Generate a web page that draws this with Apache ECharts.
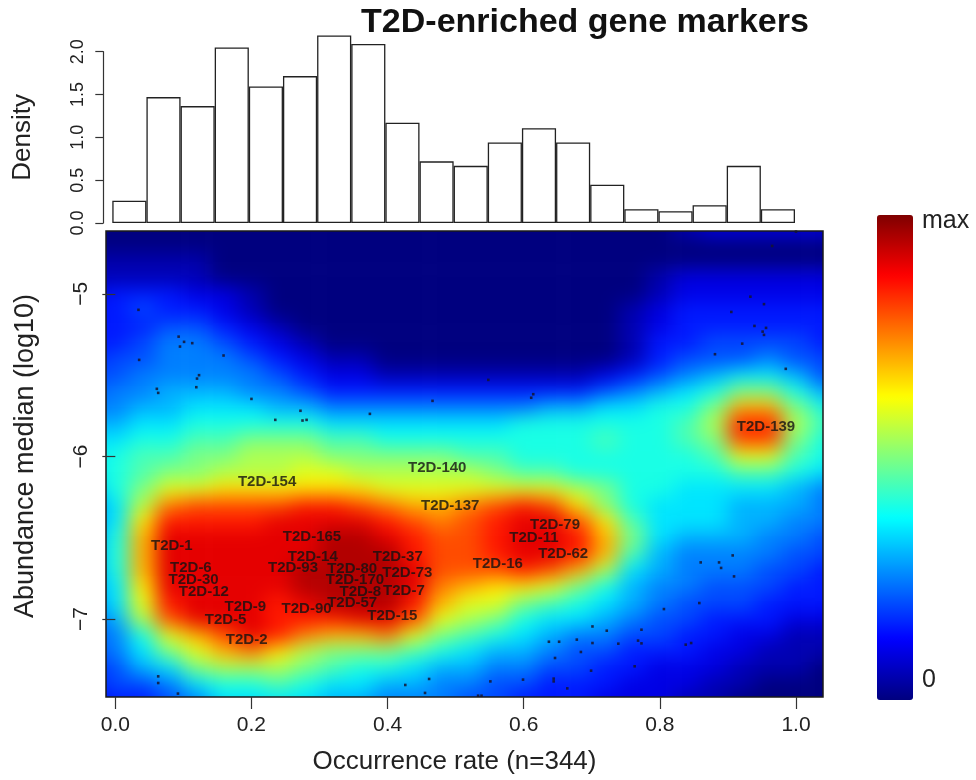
<!DOCTYPE html>
<html><head><meta charset="utf-8">
<script src="https://cdn.jsdelivr.net/npm/echarts@6/dist/echarts.min.js"></script>
<style>
html,body{margin:0;padding:0;background:#fff;}
#wrap{position:relative;width:976px;height:780px;overflow:hidden;}
#heat{position:absolute;left:0;top:0;width:976px;height:780px;filter:blur(10px);clip-path:inset(231px 153px 83px 106px);}
#main{position:absolute;left:0;top:0;width:976px;height:780px;}
</style></head><body>
<div id="wrap"><div id="heat"></div><div id="main"></div></div>
<script>
// ---------- data ----------
const histBins = ['0.00','0.05','0.10','0.15','0.20','0.25','0.30','0.35','0.40','0.45','0.50','0.55','0.60','0.65','0.70','0.75','0.80','0.85','0.90','0.95'];
const histDensity = [0.26,1.47,1.365,2.05,1.595,1.715,2.19,2.09,1.17,0.72,0.667,0.94,1.107,0.94,0.448,0.16,0.137,0.207,0.667,0.16];
const histTicks = [0,0.5,1,1.5,2];

const xTicks = [0,0.2,0.4,0.6,0.8,1.0];
const yTicks = [-7,-6,-5];

// density grid (colour level 0..20, base-36 digits), rows top -> bottom
const heatX = [-0.04,0.00,0.04,0.08,0.12,0.16,0.20,0.24,0.28,0.32,0.36,0.40,0.44,0.48,0.52,0.56,0.60,0.64,0.68,0.72,0.76,0.80,0.84,0.88,0.92,0.96,1.00,1.04,1.08];
const heatY = [-4.5,-4.6,-4.7,-4.8,-4.9,-5.0,-5.1,-5.2,-5.3,-5.4,-5.5,-5.6,-5.7,-5.8,-5.9,-6.0,-6.1,-6.2,-6.3,-6.4,-6.5,-6.6,-6.7,-6.8,-6.9,-7.0,-7.1,-7.2,-7.3,-7.4,-7.5,-7.6];
const heatLevels = [
 '00000000000000000000001111111',
 '00000000000000000000001222222',
 '00000000000000000000000000000',
 '11111000000000000000000000000',
 '11111000000000000000012222222',
 '23332210000000000000012222222',
 '33433210000000000000123333333',
 '33344321000000000000123333333',
 '33455432100000000000133444433',
 '34455543211000000000134445443',
 '44555554322111111112345677644',
 '455666554333333333345678AA865',
 '55667776655555555667788AEEA86',
 '66778888877777778888889BHHB96',
 '778899AAA99888888889889AGGA86',
 '7899AABBBAAAAA9988888889CC986',
 '789AABBBCCBBBBBA9988888899876',
 '68ACCDDDDDDCCCCCCCBA887777654',
 '57BFGGGGHHGFEEFGHGDA877766654',
 '57DHHHHIIIIHGFGHIIGD977766554',
 '58EIIIIIIJJIHGGHIIHEA76665544',
 '58EIIIIIIJJJHGGHIIHE965555443',
 '58EIIIIIJJJJIGGGHGEB765554433',
 '57DIIIIIJJJJIFEDDCA8655444333',
 '57CHIIIHIJJJHECCA987654443332',
 '46BGIIIHHHIIGCBA8776544333222',
 '458CEGIHFEEFCA987655443322111',
 '457ACEFDBAAA98766544333221111',
 '3467ABBBA98876655443322211100',
 '34457889877665544333222110000',
 '23345777766555443332221100000',
 '23345667665555443332221100000'
];

const geneNames = ['T2D-154','T2D-1','T2D-165','T2D-14','T2D-93','T2D-6','T2D-30','T2D-12','T2D-9','T2D-5','T2D-2','T2D-90','T2D-80','T2D-170','T2D-8','T2D-57','T2D-37','T2D-73','T2D-7','T2D-15','T2D-140','T2D-137','T2D-79','T2D-11','T2D-62','T2D-16','T2D-139'];
const geneX = [0.223,0.083,0.289,0.290,0.261,0.111,0.115,0.130,0.191,0.162,0.193,0.281,0.348,0.352,0.360,0.348,0.415,0.429,0.424,0.407,0.473,0.492,0.646,0.615,0.658,0.562,0.956];
const geneY = [-6.154,-6.549,-6.492,-6.615,-6.683,-6.683,-6.758,-6.834,-6.926,-7.004,-7.127,-6.937,-6.691,-6.758,-6.834,-6.902,-6.615,-6.718,-6.830,-6.978,-6.070,-6.302,-6.420,-6.502,-6.601,-6.660,-5.820];

const dotX = [0.034,0.093,0.101,0.113,0.095,0.035,0.159,0.123,0.120,0.119,0.061,0.063,0.200,0.235,0.272,0.275,0.281,0.374,0.466,1.000,0.965,0.933,0.953,0.905,0.939,0.956,0.951,0.953,0.921,0.881,0.985,0.548,0.614,0.611,0.063,0.063,0.092,0.461,0.426,0.455,0.860,0.887,0.890,0.907,0.909,0.858,0.806,0.701,0.722,0.773,0.637,0.652,0.678,0.701,0.739,0.768,0.773,0.838,0.846,0.684,0.646,0.763,0.699,0.551,0.599,0.644,0.644,0.664,0.533,0.538];
const dotY = [-5.098,-5.263,-5.295,-5.303,-5.324,-5.406,-5.379,-5.500,-5.521,-5.574,-5.584,-5.609,-5.646,-5.775,-5.719,-5.779,-5.775,-5.738,-5.658,-4.617,-4.705,-5.017,-5.063,-5.111,-5.197,-5.209,-5.232,-5.252,-5.306,-5.371,-5.461,-5.529,-5.617,-5.639,-7.353,-7.394,-7.459,-7.369,-7.406,-7.455,-6.652,-6.652,-6.686,-6.609,-6.738,-6.902,-6.939,-7.046,-7.072,-7.066,-7.140,-7.140,-7.127,-7.148,-7.152,-7.133,-7.150,-7.158,-7.148,-7.203,-7.240,-7.291,-7.318,-7.384,-7.373,-7.367,-7.384,-7.427,-7.472,-7.472];

// ---------- layout ----------
const PLOT = {left:106, top:231, width:717, height:466};
const XR = [-0.0137, 1.0397];
const YR = [-7.48, -4.613];
const HIST = {left:112.3, top:51.7, width:682.7, height:171.3};
const JET = ['#00007F','#0000FF','#007FFF','#00FFFF','#7FFF7F','#FFFF00','#FF7F00','#FF0000','#7F0000'];
const FONT = 'Liberation Sans, Arial, Helvetica, sans-serif';

// ---------- heat layer ----------
const sx = PLOT.width / (XR[1]-XR[0]);
const sy = PLOT.height / (YR[1]-YR[0]);
const cw = Math.abs(heatX[1]-heatX[0]);
const chh = Math.abs(heatY[0]-heatY[1]);
const hgLeft = PLOT.left + (heatX[0]-cw/2 - XR[0])*sx;
const hgTop = PLOT.top + (YR[1] - (heatY[0]+chh/2))*sy;
const hgW = heatX.length*cw*sx;
const hgH = heatY.length*chh*sy;
const yCats = heatY.slice().reverse().map(String);
const heatData = [];
heatLevels.forEach((row, r) => {
  for (let c = 0; c < heatX.length; c++) {
    heatData.push([c, heatY.length-1-r, parseInt(row[c], 36)]);
  }
});
const heat = echarts.init(document.getElementById('heat'), null, {renderer:'canvas'});
heat.setOption({
  animation:false,
  grid:{left:hgLeft, top:hgTop, width:hgW, height:hgH},
  xAxis:{type:'category', data:heatX.map(String), show:false},
  yAxis:{type:'category', data:yCats, show:false},
  visualMap:{show:false, min:0, max:20, seriesIndex:0, dimension:2, inRange:{color:JET}},
  series:[{type:'heatmap', data:heatData, progressive:0, itemStyle:{borderWidth:0}}]
});

// ---------- main layer ----------
const main = echarts.init(document.getElementById('main'), null, {renderer:'canvas'});
main.setOption({
  animation:false,
  textStyle:{fontFamily:FONT},
  grid:[
    {left:HIST.left, top:HIST.top, width:HIST.width, height:HIST.height},
    {left:PLOT.left, top:PLOT.top, width:PLOT.width, height:PLOT.height, show:true, borderColor:'#1a1a1a', borderWidth:1.5, backgroundColor:'transparent'}
  ],
  xAxis:[
    {gridIndex:0, type:'category', data:histBins, show:false},
    {gridIndex:1, type:'value', min:XR[0], max:XR[1],
     axisLine:{show:false}, splitLine:{show:false},
     axisTick:{show:true, inside:false, length:12, customValues:xTicks, lineStyle:{color:'#333', width:1.2}},
     axisLabel:{customValues:xTicks, formatter:v=>v.toFixed(1), fontSize:21, margin:18, color:'#222', fontFamily:FONT},
     name:'Occurrence rate (n=344)', nameLocation:'middle', nameGap:52,
     nameTextStyle:{fontSize:26, color:'#222', fontFamily:FONT, padding:[0,20,0,0]}}
  ],
  yAxis:[
    {gridIndex:0, type:'value', min:0, max:2, interval:0.5, offset:9,
     axisLine:{show:true, lineStyle:{color:'#333', width:1.2}}, splitLine:{show:false},
     axisTick:{show:true, inside:false, length:8, lineStyle:{color:'#333', width:1.2}},
     axisLabel:{rotate:90, formatter:v=>v.toFixed(1), fontSize:18, margin:16, color:'#222', fontFamily:FONT},
     name:'Density', nameLocation:'middle', nameGap:67,
     nameTextStyle:{fontSize:26, color:'#222', fontFamily:FONT}},
    {gridIndex:1, type:'value', min:YR[0], max:YR[1],
     axisLine:{show:false}, splitLine:{show:false},
     axisTick:{show:true, inside:false, length:13, customValues:yTicks, lineStyle:{color:'#333', width:1.2}},
     axisLabel:{customValues:yTicks, rotate:90, formatter:v=>'\u2212'+Math.abs(v), fontSize:21, margin:14, color:'#222', fontFamily:FONT},
     name:'Abundance median (log10)', nameLocation:'middle', nameGap:67,
     nameTextStyle:{fontSize:27, color:'#222', fontFamily:FONT, padding:[0,0,0,16]}}
  ],
  visualMap:[{
    type:'continuous', seriesIndex:[], show:true, min:0, max:20, orient:'vertical',
    left:877, top:215, itemWidth:36, itemHeight:485, padding:0, calculable:false, hoverLink:false,
    inRange:{color:JET}
  }],
  series:[
    {type:'bar', xAxisIndex:0, yAxisIndex:0, data:histDensity, barCategoryGap:'0%', clip:false,
     itemStyle:{color:'#ffffff', borderColor:'#222', borderWidth:1.3}},
    {type:'scatter', xAxisIndex:1, yAxisIndex:1, symbol:'rect', symbolSize:2.6, z:3,
     data:dotX.map((x,i)=>[x, dotY[i]]), itemStyle:{color:'#151530', opacity:0.85}},
    {type:'scatter', xAxisIndex:1, yAxisIndex:1, symbolSize:1, z:4,
     data:geneNames.map((n,i)=>({name:n, value:[geneX[i], geneY[i]]})),
     itemStyle:{color:'rgba(0,0,0,0)'},
     label:{show:true, position:'inside', formatter:'{b}', fontSize:15, fontWeight:'bold', color:'#111', fontFamily:FONT}}
  ],
  graphic:[
    {type:'text', x:585, y:23, style:{text:'T2D-enriched gene markers', font:'bold 34px '+FONT, fill:'#111', textAlign:'center', textVerticalAlign:'middle'}},
    {type:'text', x:922, y:221, style:{text:'max', font:'25px '+FONT, fill:'#222', textAlign:'left', textVerticalAlign:'middle'}},
    {type:'text', x:922, y:680, style:{text:'0', font:'25px '+FONT, fill:'#222', textAlign:'left', textVerticalAlign:'middle'}}
  ]
});
</script>
</body></html>
